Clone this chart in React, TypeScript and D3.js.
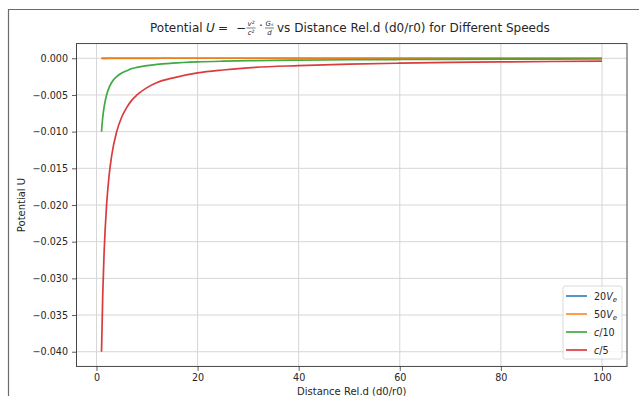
import { useEffect, useRef } from 'react';
import * as d3 from 'd3';

// distance samples (d0/r0) and potential values
const distance = [1, 1.25, 1.5, 2, 2.5, 3, 4, 5, 6, 7, 8, 10, 12, 15, 20, 25, 30, 40, 50, 60, 70, 80, 90, 100];
const u20Ve = [-0.0000006, -0.0000005, -0.0000004, -0.0000003, -0.0000002, -0.0000002, -0.0000001, -0.0000001, -0.0000001, -0.0000001, -0.0000001, -0.0000001, 0, 0, 0, 0, 0, 0, 0, 0, 0, 0, 0, 0];
const u50Ve = [-0.0000035, -0.0000028, -0.0000023, -0.0000017, -0.0000014, -0.0000012, -0.0000009, -0.0000007, -0.0000006, -0.0000005, -0.0000004, -0.0000003, -0.0000003, -0.0000002, -0.0000002, -0.0000001, -0.0000001, -0.0000001, -0.0000001, 0, 0, 0, 0, 0];
const uC10 = [-0.01, -0.008, -0.0067, -0.005, -0.004, -0.0033, -0.0025, -0.002, -0.0017, -0.0014, -0.00125, -0.001, -0.00083, -0.00067, -0.0005, -0.0004, -0.00033, -0.00025, -0.0002, -0.00017, -0.00014, -0.000125, -0.00011, -0.0001];
const uC5 = [-0.04, -0.032, -0.0267, -0.02, -0.016, -0.0133, -0.01, -0.008, -0.0067, -0.0057, -0.005, -0.004, -0.0033, -0.0027, -0.002, -0.0016, -0.0013, -0.001, -0.0008, -0.00067, -0.00057, -0.0005, -0.00044, -0.0004];

const seriesNames = ['20Ve', '50Ve', 'c/10', 'c/5'];
const seriesValues = [u20Ve, u50Ve, uC10, uC5];
const colors = ['#1f77b4', '#ff7f0e', '#2ca02c', '#d62728'];

const xTicks = [0, 20, 40, 60, 80, 100];
const yTicks = [0, -0.005, -0.01, -0.015, -0.02, -0.025, -0.03, -0.035, -0.04];

export default function App() {
  const svgRef = useRef<SVGSVGElement>(null);

  useEffect(() => {
    if (!svgRef.current) return;
    const root = d3.select(svgRef.current);
    root.selectAll('*').remove();

    const width = 639;
    const height = 396;
    const margin = { top: 43.6, right: 12, bottom: 29.6, left: 76.5 };
    const innerWidth = width - margin.left - margin.right;
    const innerHeight = height - margin.top - margin.bottom;
    const font = '"DejaVu Sans", sans-serif';

    root.attr('width', width).attr('height', height).style('font-family', font);

    // outer output frame
    root.append('path')
      .attr('d', `M8.5,${height} V9.5 H${width}`)
      .attr('fill', 'none')
      .attr('stroke', '#6b6b6b')
      .attr('stroke-width', 1.2);

    const x = d3.scaleLinear().domain([-3.95, 104.95]).range([0, innerWidth]);
    const y = d3.scaleLinear().domain([-0.042, 0.002]).range([innerHeight, 0]);

    const g = root.append('g').attr('transform', `translate(${margin.left},${margin.top})`);

    // Grid lines
    g.append('g')
      .selectAll('line')
      .data(xTicks)
      .enter()
      .append('line')
      .attr('x1', d => x(d)).attr('x2', d => x(d))
      .attr('y1', 0).attr('y2', innerHeight)
      .attr('stroke', '#d6d6d6').attr('stroke-width', 1);
    g.append('g')
      .selectAll('line')
      .data(yTicks)
      .enter()
      .append('line')
      .attr('x1', 0).attr('x2', innerWidth)
      .attr('y1', d => y(d)).attr('y2', d => y(d))
      .attr('stroke', '#d6d6d6').attr('stroke-width', 1);

    // Lines
    const line = d3.line<number>()
      .x((_, i) => x(distance[i]))
      .y(d => y(d))
      .curve(d3.curveMonotoneX);

    seriesValues.forEach((vals, k) => {
      g.append('path')
        .datum(vals)
        .attr('d', line)
        .attr('fill', 'none')
        .attr('stroke', colors[k])
        .attr('stroke-opacity', 0.9)
        .attr('stroke-width', 1.7);
    });

    // Axes
    const xAxis = g.append('g')
      .attr('transform', `translate(0,${innerHeight})`)
      .call(d3.axisBottom(x).tickValues(xTicks).tickSize(4.5).tickPadding(3).tickFormat(d => String(d)));
    const yAxis = g.append('g')
      .call(d3.axisLeft(y).tickValues(yTicks).tickSize(4.5).tickPadding(4)
        .tickFormat(d => d3.format('.3f')(+d).replace('-', '\u2212')));
    [xAxis, yAxis].forEach(ax => {
      ax.select('.domain').remove();
      ax.selectAll('line').attr('stroke', '#333').attr('stroke-width', 0.8);
      ax.selectAll('text').attr('fill', '#262626').attr('font-size', '9.6px').attr('font-family', font);
    });

    // frame
    g.append('rect')
      .attr('width', innerWidth).attr('height', innerHeight)
      .attr('fill', 'none').attr('stroke', '#333').attr('stroke-width', 0.9);

    // Axis labels
    root.append('text')
      .attr('x', margin.left + innerWidth / 2).attr('y', 395)
      .attr('text-anchor', 'middle').attr('font-size', '10px').attr('fill', '#262626')
      .text('Distance Rel.d (d0/r0)');
    root.append('text')
      .attr('transform', `translate(25,${margin.top + innerHeight / 2}) rotate(-90)`)
      .attr('text-anchor', 'middle').attr('font-size', '10px').attr('fill', '#262626')
      .text('Potential U');

    // Title with mathtext
    const t = root.append('g').attr('fill', '#262626').attr('font-size', '12px');
    t.append('text').attr('x', 150).attr('y', 32).text('Potential');
    t.append('text').attr('x', 206).attr('y', 32).attr('font-style', 'italic').text('U');
    t.append('text').attr('x', 218).attr('y', 32).text('=');
    t.append('text').attr('x', 236).attr('y', 32).text('\u2212');
    const frac = (cx: number, num: string, den: string) => {
      t.append('text').attr('x', cx).attr('y', 26).attr('text-anchor', 'middle')
        .attr('font-size', '7px').attr('font-style', 'italic').text(num);
      t.append('line').attr('x1', cx - 4.5).attr('x2', cx + 4.5).attr('y1', 28).attr('y2', 28)
        .attr('stroke', '#262626').attr('stroke-width', 0.6);
      t.append('text').attr('x', cx).attr('y', 35).attr('text-anchor', 'middle')
        .attr('font-size', '7px').attr('font-style', 'italic').text(den);
    };
    frac(251, 'v\u00b2', 'c\u00b2');
    t.append('text').attr('x', 259).attr('y', 30).text('\u00b7');
    frac(269.5, 'G\u209b', 'd');
    t.append('text').attr('x', 277).attr('y', 32).text('vs Distance Rel.d (d0/r0) for Different Speeds');

    // Legend
    const legend = root.append('g').attr('transform', 'translate(563,286)');
    legend.append('rect')
      .attr('width', 59).attr('height', 73).attr('rx', 2)
      .attr('fill', 'white').attr('fill-opacity', 0.8)
      .attr('stroke', '#d0d0d0').attr('stroke-width', 0.8);
    const labels = [['20', 'V', 'e'], ['50', 'V', 'e'], ['c', '/10', ''], ['c', '/5', '']];
    seriesNames.forEach((_, k) => {
      const ly = 10 + k * 18;
      legend.append('line')
        .attr('x1', 3).attr('x2', 24).attr('y1', ly).attr('y2', ly)
        .attr('stroke', colors[k]).attr('stroke-opacity', 0.9).attr('stroke-width', 1.7);
      const txt = legend.append('text').attr('x', 31).attr('y', ly + 3.5)
        .attr('font-size', '9.6px').attr('fill', '#262626');
      const [a, b, c] = labels[k];
      if (k < 2) {
        txt.append('tspan').text(a);
        txt.append('tspan').attr('font-style', 'italic').text(b);
        txt.append('tspan').attr('font-style', 'italic').attr('font-size', '7px').attr('dy', 2).text(c);
      } else {
        txt.append('tspan').attr('font-style', 'italic').text(a);
        txt.append('tspan').text(b);
      }
    });
  }, []);

  return (
    <div style={{ position: 'absolute', left: 0, top: 0, background: 'white' }}>
      <svg ref={svgRef} style={{ display: 'block' }} />
    </div>
  );
}
